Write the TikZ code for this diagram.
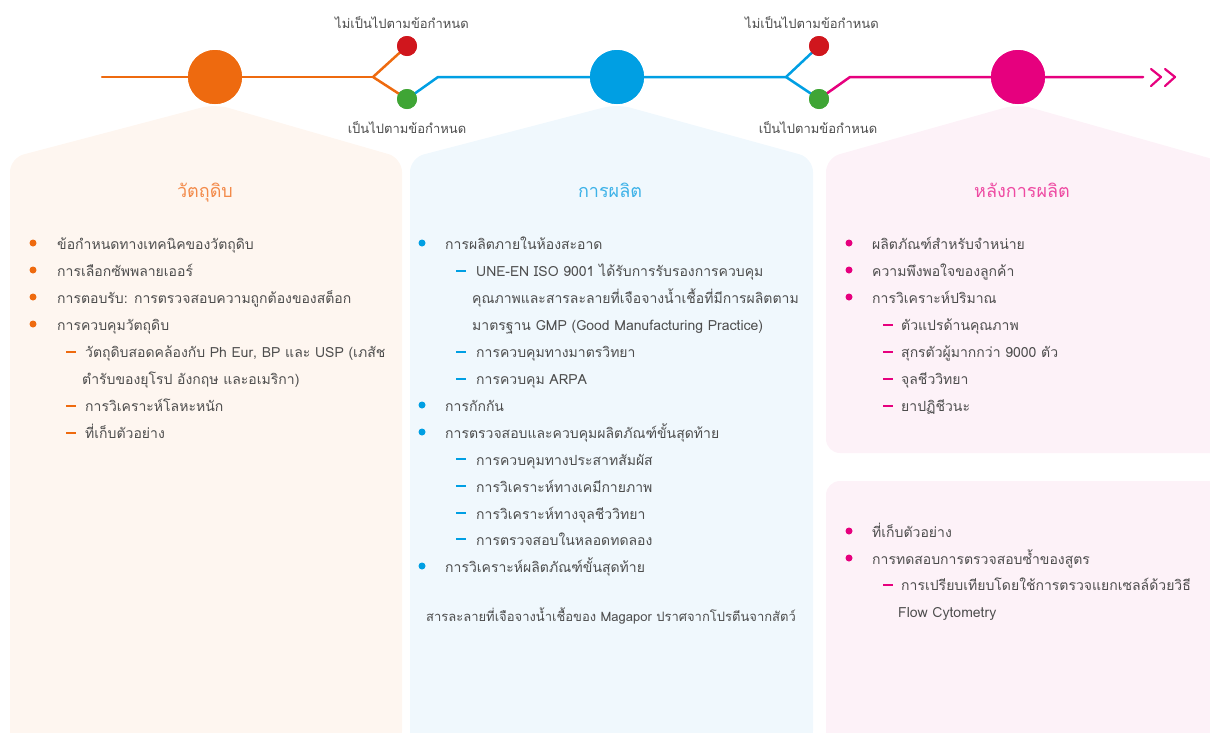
\documentclass[tikz,border=0pt]{standalone}
\usepackage{fontspec}
\setmainfont[Script=Thai]{Loma}
\begin{document}
\begin{tikzpicture}[x=1pt,y=-1pt,
  txt/.style={anchor=base west,inner sep=0pt,font=\fontsize{14}{16}\selectfont,text=txtgray},
  lbl/.style={anchor=base,inner sep=0pt,font=\fontsize{13}{15}\selectfont,text=txtgray},
  ttl/.style={anchor=base,inner sep=0pt,font=\fontsize{18}{21}\selectfont},
  bigdot/.style={circle,minimum size=54pt,inner sep=0pt},
  smalldot/.style={circle,minimum size=20pt,inner sep=0pt},
  bul/.style={circle,minimum size=7pt,inner sep=0pt},
  flow/.style={line width=2.5pt,line cap=round,line join=round},
  dashmark/.style={line width=2pt},
  panel/.style={rounded corners=14pt}
]
\definecolor{txtgray}{HTML}{4D4D4D}
\definecolor{corange}{HTML}{EE6A0F}
\definecolor{cblue}{HTML}{009FE3}
\definecolor{cpink}{HTML}{E6007E}
\definecolor{cred}{HTML}{D0161D}
\definecolor{cgreen}{HTML}{3FA535}
\definecolor{torange}{HTML}{F38A4A}
\definecolor{tblue}{HTML}{3DB2E8}
\definecolor{tpink}{HTML}{EE4AA2}
\definecolor{porange}{HTML}{FEF6F0}
\definecolor{pblue}{HTML}{F0F8FD}
\definecolor{ppink}{HTML}{FDF2F8}
\useasboundingbox (0,0) rectangle (1210,732);
\clip (0,0) rectangle (1210,732);
% panels
\fill[porange,panel] (10,745) -- (10,158) -- (215,104) -- (402,158) -- (402,745) -- cycle;
\fill[pblue,panel] (410,745) -- (410,158) -- (617,104) -- (813,158) -- (813,745) -- cycle;
\fill[ppink,panel] (826,453) -- (826,158) -- (1018,104) -- (1230,164) -- (1230,453) -- cycle;
\fill[ppink,panel] (826,745) -- (826,481) -- (1230,481) -- (1230,745) -- cycle;
% timeline nodes
\node[bigdot,fill=corange] (c1) at (215,77) {};
\node[bigdot,fill=cblue] (c2) at (617,77) {};
\node[bigdot,fill=cpink] (c3) at (1018,77) {};
\node[smalldot,fill=cred] (r1) at (407,46) {};
\node[smalldot,fill=cgreen] (g1) at (407,99) {};
\node[smalldot,fill=cred] (r2) at (819,46) {};
\node[smalldot,fill=cgreen] (g2) at (819,99) {};
\coordinate (s0) at (102,77);
\coordinate (j1) at (373,77);
\coordinate (k1) at (438,77);
\coordinate (j2) at (786,77);
\coordinate (k2) at (850,77);
\coordinate (e3) at (1143,77);
\draw[flow,corange] (s0) -- (c1) -- (j1);
\draw[flow,corange] (j1) -- (r1.center);
\draw[flow,corange] (j1) -- (g1.center);
\draw[flow,cblue] (g1.center) -- (k1) -- (c2) -- (j2);
\draw[flow,cblue] (j2) -- (r2.center);
\draw[flow,cblue] (j2) -- (g2.center);
\draw[flow,cpink] (g2.center) -- (k2) -- (c3) -- (e3);
% redraw dots on top
\node[bigdot,fill=corange] at (c1) {};
\node[bigdot,fill=cblue] at (c2) {};
\node[bigdot,fill=cpink] at (c3) {};
\node[smalldot,fill=cred] at (r1) {};
\node[smalldot,fill=cgreen] at (g1) {};
\node[smalldot,fill=cred] at (r2) {};
\node[smalldot,fill=cgreen] at (g2) {};
% chevrons
\coordinate (ch1a) at (1151,69); \coordinate (ch1b) at (1161,77); \coordinate (ch1c) at (1151,86);
\coordinate (ch2a) at (1165,69); \coordinate (ch2b) at (1175,77); \coordinate (ch2c) at (1165,86);
\draw[flow,cpink,line width=2.2pt] (ch1a) -- (ch1b) -- (ch1c);
\draw[flow,cpink,line width=2.2pt] (ch2a) -- (ch2b) -- (ch2c);
% labels
\node[lbl] (l1) at (402,28) {ไม่เป็นไปตามข้อกำหนด};
\node[lbl] (l2) at (407,133) {เป็นไปตามข้อกำหนด};
\node[lbl] (l3) at (812,28) {ไม่เป็นไปตามข้อกำหนด};
\node[lbl] (l4) at (818,133) {เป็นไปตามข้อกำหนด};
% titles
\node[ttl,text=torange] (t1) at (205,197) {วัตถุดิบ};
\node[ttl,text=tblue] (t2) at (610,197) {การผลิต};
\node[ttl,text=tpink] (t3) at (1022,197) {หลังการผลิต};
% panel 1
\node[bul,fill=corange] (b11) at (33,243) {};
\node[bul,fill=corange] (b12) at (33,270) {};
\node[bul,fill=corange] (b13) at (33,297) {};
\node[bul,fill=corange] (b14) at (33,324) {};
\node[txt] (a11) at (57,249) {ข้อกำหนดทางเทคนิคของวัตถุดิบ};
\node[txt] (a12) at (57,276) {การเลือกซัพพลายเออร์};
\node[txt] (a13) at (57,303) {การตอบรับ: การตรวจสอบความถูกต้องของสต็อก};
\node[txt] (a14) at (57,330) {การควบคุมวัตถุดิบ};
\foreach \yy/\nm in {352/d11,406/d12,433/d13}{
  \coordinate (\nm a) at (66,\yy); \coordinate (\nm b) at (76,\yy);
  \draw[dashmark,corange] (\nm a) -- (\nm b);}
\node[txt] (a15) at (85,357) {วัตถุดิบสอดคล้องกับ Ph Eur, BP และ USP (เภสัช};
\node[txt] (a16) at (82,384) {ตำรับของยุโรป อังกฤษ และอเมริกา)};
\node[txt] (a17) at (85,411) {การวิเคราะห์โลหะหนัก};
\node[txt] (a18) at (85,438) {ที่เก็บตัวอย่าง};
% panel 2
\foreach \yy/\nm in {243/b21,405/b22,432/b23,566/b24}{
  \node[bul,fill=cblue] (\nm) at (422,\yy) {};}
\node[txt] (a21) at (445,249) {การผลิตภายในห้องสะอาด};
\node[txt] (a22) at (476,276) {UNE-EN ISO 9001 ได้รับการรับรองการควบคุม};
\node[txt] (a23) at (472,303) {คุณภาพและสารละลายที่เจือจางน้ำเชื้อที่มีการผลิตตาม};
\node[txt] (a24) at (472,330) {มาตรฐาน GMP (Good Manufacturing Practice)};
\node[txt] (a25) at (476,357) {การควบคุมทางมาตรวิทยา};
\node[txt] (a26) at (476,384) {การควบคุม ARPA};
\node[txt] (a27) at (445,411) {การกักกัน};
\node[txt] (a28) at (445,438) {การตรวจสอบและควบคุมผลิตภัณฑ์ขั้นสุดท้าย};
\node[txt] (a29) at (476,465) {การควบคุมทางประสาทสัมผัส};
\node[txt] (a2a) at (476,492) {การวิเคราะห์ทางเคมีกายภาพ};
\node[txt] (a2b) at (476,519) {การวิเคราะห์ทางจุลชีววิทยา};
\node[txt] (a2c) at (476,545) {การตรวจสอบในหลอดทดลอง};
\node[txt] (a2d) at (445,572) {การวิเคราะห์ผลิตภัณฑ์ขั้นสุดท้าย};
\node[lbl] (a2e) at (611,621) {สารละลายที่เจือจางน้ำเชื้อของ Magapor ปราศจากโปรตีนจากสัตว์};
\foreach \yy/\nm in {271/d21,352/d22,379/d23,459/d24,486/d25,513/d26,539/d27}{
  \coordinate (\nm a) at (456,\yy); \coordinate (\nm b) at (466,\yy);
  \draw[dashmark,cblue] (\nm a) -- (\nm b);}
% panel 3
\foreach \yy/\nm in {243/b31,270/b32,297/b33,531/b41,558/b42}{
  \node[bul,fill=cpink] (\nm) at (849,\yy) {};}
\node[txt] (a31) at (872,249) {ผลิตภัณฑ์สำหรับจำหน่าย};
\node[txt] (a32) at (872,276) {ความพึงพอใจของลูกค้า};
\node[txt] (a33) at (872,303) {การวิเคราะห์ปริมาณ};
\node[txt] (a34) at (901,330) {ตัวแปรด้านคุณภาพ};
\node[txt] (a35) at (901,357) {สุกรตัวผู้มากกว่า 9000 ตัว};
\node[txt] (a36) at (901,384) {จุลชีววิทยา};
\node[txt] (a37) at (901,411) {ยาปฏิชีวนะ};
\node[txt] (a41) at (872,537) {ที่เก็บตัวอย่าง};
\node[txt] (a42) at (872,564) {การทดสอบการตรวจสอบซ้ำของสูตร};
\node[txt] (a43) at (901,590) {การเปรียบเทียบโดยใช้การตรวจแยกเซลล์ด้วยวิธี};
\node[txt] (a44) at (898,617) {Flow Cytometry};
\foreach \yy/\nm in {325/d31,352/d32,379/d33,406/d34,585/d41}{
  \coordinate (\nm a) at (883,\yy); \coordinate (\nm b) at (893,\yy);
  \draw[dashmark,cpink] (\nm a) -- (\nm b);}
\end{tikzpicture}
\end{document}
